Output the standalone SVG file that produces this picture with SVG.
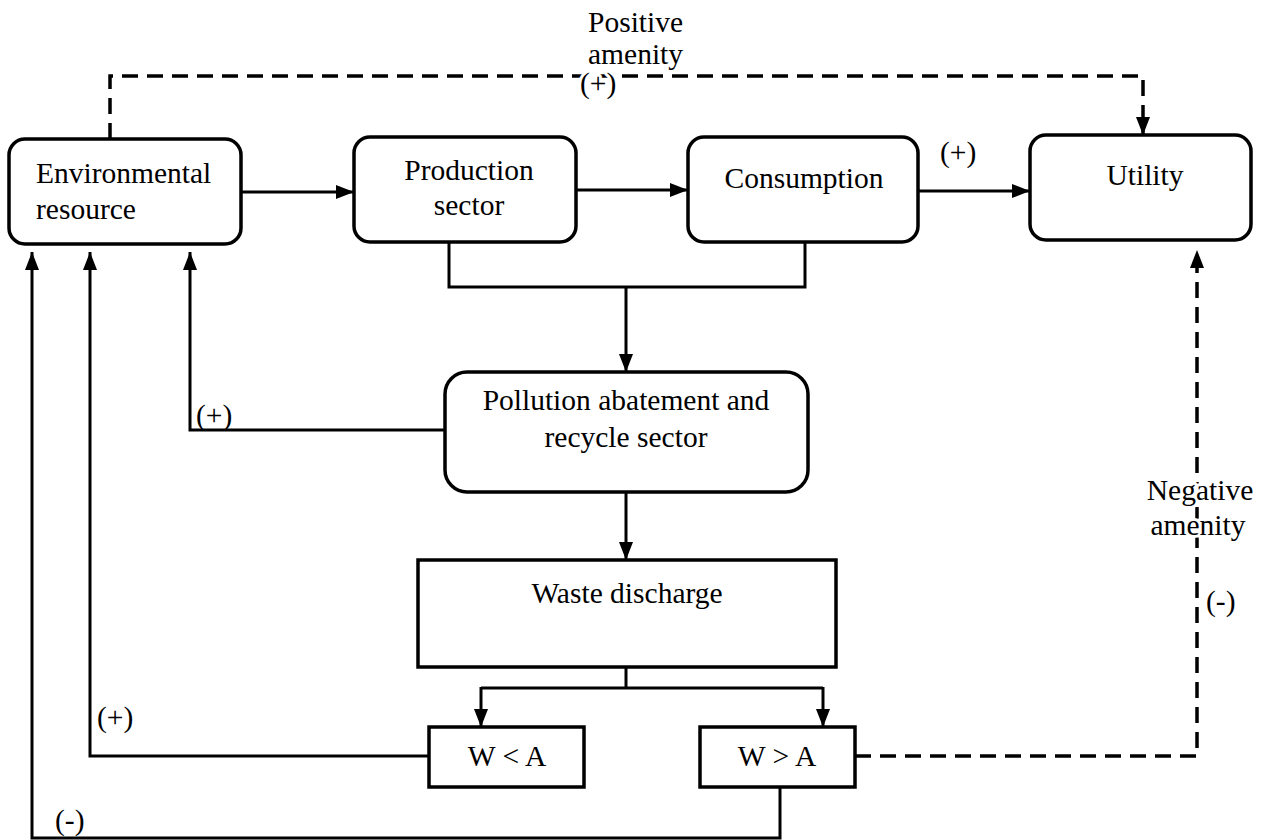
<svg xmlns="http://www.w3.org/2000/svg" width="1263" height="840" viewBox="0 0 1263 840">
<defs>
<marker id="ah" markerUnits="userSpaceOnUse" markerWidth="18" markerHeight="14" viewBox="0 0 18 14" refX="18" refY="7" orient="auto">
<path d="M0,0 L18,7 L0,14 Z" fill="#000"/>
</marker>
</defs>
<style>
.box{fill:#fff;stroke:#000;stroke-width:3.5}
.ln{fill:none;stroke:#000;stroke-width:3}
.ds{fill:none;stroke:#000;stroke-width:3.5;stroke-dasharray:16 9}
text{font-family:"Liberation Serif","Times New Roman",serif;font-size:29.5px;fill:#000}
.halo{stroke:#fff;stroke-width:6;paint-order:stroke;stroke-linejoin:round}
.m{text-anchor:middle}
</style>
<rect width="1263" height="840" fill="#fff"/>
<g id="connectors">
<path class="ds" d="M110,139 V76 H1143 V135" marker-end="url(#ah)"/>
<path class="ln" d="M241,192 H354" marker-end="url(#ah)"/>
<path class="ln" d="M576,190 H688" marker-end="url(#ah)"/>
<path class="ln" d="M918,191 H1030" marker-end="url(#ah)"/>
<path class="ln" d="M449,242 V287 H805 V242"/>
<path class="ln" d="M626,287 V372" marker-end="url(#ah)"/>
<path class="ln" d="M445,430 H190 V252" marker-end="url(#ah)"/>
<path class="ln" d="M626,492 V560" marker-end="url(#ah)"/>
<path class="ln" d="M626,667 V688"/>
<path class="ln" d="M481,688 H823"/>
<path class="ln" d="M481,687 V727" marker-end="url(#ah)"/>
<path class="ln" d="M823,687 V727" marker-end="url(#ah)"/>
<path class="ln" d="M429,756 H90 V252" marker-end="url(#ah)"/>
<path class="ln" d="M780,787 V838 H32 V252" marker-end="url(#ah)"/>
<path class="ds" d="M855,756 H1197 V250" marker-end="url(#ah)"/>
<text x="588" y="32">Positive</text>
<text x="588" y="64" class="halo">amenity</text>
<text x="580" y="93" class="halo">(+)</text>
<text x="940" y="162">(+)</text>
<text x="196" y="425">(+)</text>
<text x="97" y="727">(+)</text>
<text x="55" y="830">(-)</text>
<text x="1200" y="500" class="m halo">Negative</text>
<text x="1198" y="535" class="m halo">amenity</text>
<text x="1206" y="611">(-)</text>
</g>
<g id="env">
<rect class="box" x="9" y="139" width="232" height="105" rx="16"/>
<text x="36" y="183">Environmental</text>
<text x="36" y="219">resource</text>
</g>
<g id="production">
<rect class="box" x="354" y="137" width="222" height="105" rx="16"/>
<text x="469" y="180" class="m">Production</text>
<text x="469" y="215" class="m">sector</text>
</g>
<g id="consumption">
<rect class="box" x="688" y="137" width="230" height="105" rx="16"/>
<text x="804" y="188" class="m">Consumption</text>
</g>
<g id="utility">
<rect class="box" x="1030" y="135" width="221" height="105" rx="16"/>
<text x="1145" y="185" class="m">Utility</text>
</g>
<g id="pollution">
<rect class="box" x="445" y="372" width="363" height="120" rx="22"/>
<text x="626" y="410" class="m">Pollution abatement and</text>
<text x="626" y="447" class="m">recycle sector</text>
</g>
<g id="waste">
<rect class="box" x="418" y="560" width="418" height="107"/>
<text x="627" y="603" class="m">Waste discharge</text>
</g>
<g id="wlta">
<rect class="box" x="429" y="727" width="155" height="60"/>
<text x="507" y="766" class="m">W &lt; A</text>
</g>
<g id="wgta">
<rect class="box" x="700" y="727" width="155" height="60"/>
<text x="777" y="766" class="m">W &gt; A</text>
</g>
</svg>
